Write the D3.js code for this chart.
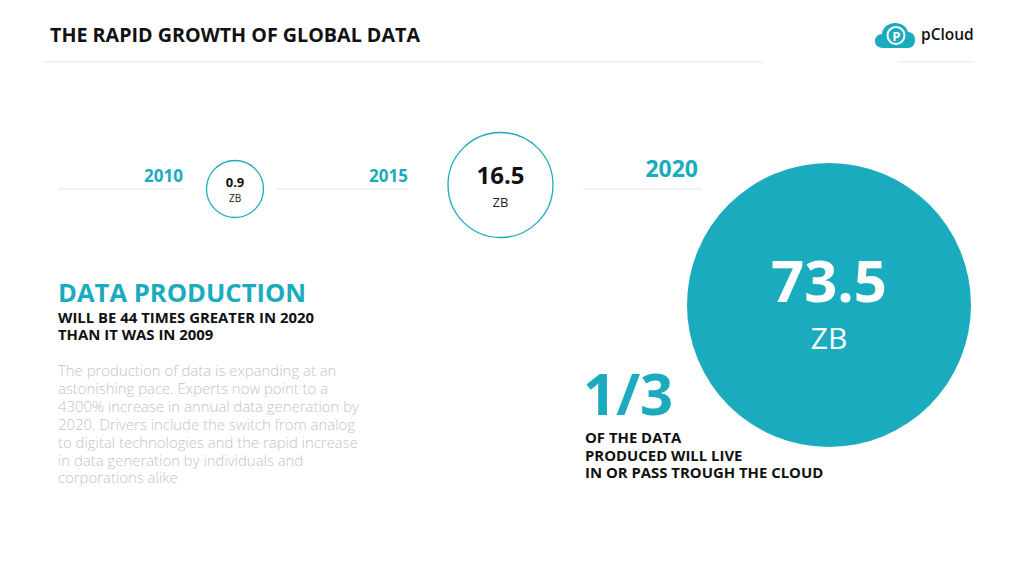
<!DOCTYPE html>
<html><head><meta charset="utf-8">
<script src="https://cdn.jsdelivr.net/npm/d3@7"></script>
<style>html,body{margin:0;padding:0;background:#fff;}svg{display:block;font-family:"Open Sans",sans-serif;}</style>
</head><body>
<svg id="c" width="1024" height="576"></svg>
<script>
const years = ["2010", "2015", "2020"];
const values = [0.9, 16.5, 73.5];
const unit = "ZB";
const title = "THE RAPID GROWTH OF GLOBAL DATA";
const headline = "DATA PRODUCTION";
const subline = ["WILL BE 44 TIMES GREATER IN 2020", "THAN IT WAS IN 2009"];
const body = ["The production of data is expanding at an", "astonishing pace. Experts now point to a", "4300% increase in annual data generation by", "2020. Drivers include the switch from analog", "to digital technologies and the rapid increase", "in data generation by individuals and", "corporations alike"];
const fraction = "1/3";
const fractionText = ["OF THE DATA", "PRODUCED WILL LIVE", "IN OR PASS TROUGH THE CLOUD"];

const TEAL = "#1aacbe";
const svg = d3.select("#c");

// layout
const cx = [235, 500.5, 829];
const cy = [189, 185, 305];
const lineSeg = [[58, 183], [277, 408], [583, 702]];
const rScale = d3.scaleLinear().domain(values).range([28.5, 52.5, 142]);
const valSize = d3.scaleLinear().domain(values).range([13, 24, 58]);
const unitSize = d3.scaleLinear().domain(values).range([10, 13, 30]);
const yearSize = [17, 17, 23];

// header
svg.append("text").attr("x", 50).attr("y", 42).attr("font-size", 19).attr("font-weight", 700)
  .attr("fill", "#111").attr("textLength", 370).attr("lengthAdjust", "spacingAndGlyphs").text(title);
svg.append("line").attr("x1", 44).attr("x2", 763).attr("y1", 62).attr("y2", 62).attr("stroke", "#eeeeee").attr("stroke-width", 1.5);
svg.append("line").attr("x1", 897).attr("x2", 975).attr("y1", 62).attr("y2", 62).attr("stroke", "#eeeeee").attr("stroke-width", 1.5);

// logo
const logo = svg.append("g");
logo.append("path").attr("fill", TEAL)
  .attr("d", "M883,48 C877,48 875,44 875,41 C875,37 878,34 882,34 C882,28 888,23 895,23 C902,23 907,27 908,32 C913,32 915,36 915,40 C915,45 912,48 908,48 Z");
logo.append("circle").attr("cx", 896).attr("cy", 35.5).attr("r", 8.5).attr("fill", "none").attr("stroke", "#fff").attr("stroke-width", 2);
logo.append("text").attr("x", 896.3).attr("y", 40.5).attr("text-anchor", "middle").attr("font-size", 13).attr("font-weight", 700).attr("fill", "#fff").text("P");
logo.append("text").attr("x", 921).attr("y", 40).attr("font-size", 15.5).attr("font-weight", 600).attr("fill", "#111").text("pCloud");

// timeline lines & years
years.forEach((y, i) => {
  svg.append("line").attr("x1", lineSeg[i][0]).attr("x2", lineSeg[i][1]).attr("y1", 189).attr("y2", 189)
    .attr("stroke", "#e4e4e4").attr("stroke-width", 1);
  svg.append("text").attr("x", lineSeg[i][1] - (i === 2 ? 4 : 0)).attr("y", i === 2 ? 177 : 181.5)
    .attr("text-anchor", "end").attr("font-size", yearSize[i]).attr("font-weight", 700).attr("fill", TEAL).text(y);
});

// circles
values.forEach((v, i) => {
  const big = i === 2;
  svg.append("circle").attr("cx", cx[i]).attr("cy", cy[i]).attr("r", rScale(v))
    .attr("fill", big ? TEAL : "#fff").attr("stroke", big ? "none" : TEAL).attr("stroke-width", 1.3);
  const vs = valSize(v), us = unitSize(v);
  const vy = big ? 302 : (i === 0 ? 187 : 183.5);
  const uy = big ? 349 : (i === 0 ? 201.5 : 207);
  svg.append("text").attr("x", cx[i]).attr("y", vy).attr("text-anchor", "middle").attr("font-size", vs)
    .attr("font-weight", 700).attr("fill", big ? "#fff" : "#111").text(String(v));
  svg.append("text").attr("x", cx[i]).attr("y", uy).attr("text-anchor", "middle").attr("font-size", us)
    .attr("font-weight", 400).attr("fill", big ? "#fff" : "#222").text(unit);
});

// left text block
svg.append("text").attr("x", 58).attr("y", 302).attr("font-size", 25.6).attr("font-weight", 700).attr("fill", TEAL).text(headline);
subline.forEach((s, i) => svg.append("text").attr("x", 58).attr("y", 323 + i * 17).attr("font-size", 14.9)
  .attr("font-weight", 700).attr("fill", "#111").text(s));
body.forEach((s, i) => svg.append("text").attr("x", 58).attr("y", 376 + i * 17.9).attr("font-size", 14.9)
  .attr("font-weight", 300).attr("fill", "#c4c4c4").text(s));

// fraction block
svg.append("text").attr("x", 583).attr("y", 415).attr("font-size", 58).attr("font-weight", 700).attr("fill", TEAL).text(fraction);
fractionText.forEach((s, i) => svg.append("text").attr("x", 585).attr("y", 443 + i * 17.5).attr("font-size", 14.9)
  .attr("font-weight", 700).attr("fill", "#111").text(s));
</script>
</body></html>
